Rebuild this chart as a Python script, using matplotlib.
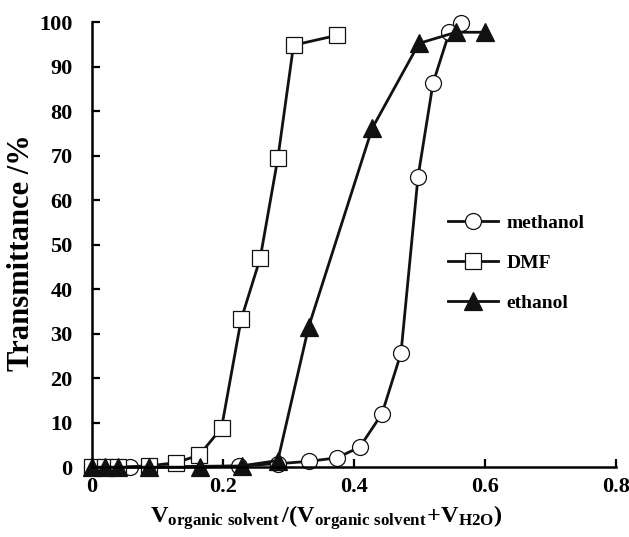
import matplotlib
matplotlib.use('Agg')
import matplotlib.pyplot as plt

# methanol (open circles)
meoh_x = [0, 0.02, 0.04, 0.058, 0.225, 0.285, 0.331, 0.374, 0.409, 0.443,
          0.472, 0.498, 0.521, 0.546, 0.564]
meoh_y = [0, 0, 0, 0, 0.3, 0.8, 1.3, 2.1, 4.5, 12.0, 25.6, 65.2, 86.3, 97.8, 99.8]

# DMF (open squares)
dmf_x = [0, 0.02, 0.04, 0.087, 0.128, 0.164, 0.198, 0.228, 0.257, 0.284, 0.308, 0.374]
dmf_y = [0, 0, 0, 0.3, 1.0, 2.7, 8.8, 33.2, 46.9, 69.4, 94.8, 97.0]

# ethanol (filled triangles)
etoh_x = [0, 0.02, 0.04, 0.087, 0.165, 0.229, 0.284, 0.331, 0.428, 0.4995, 0.556, 0.600]
etoh_y = [0, 0, 0, 0, 0, 0.3, 1.5, 31.5, 76.1, 95.2, 97.7, 97.7]

x_ticks = [0, 0.2, 0.4, 0.6, 0.8]
x_tick_labels = ['0', '0.2', '0.4', '0.6', '0.8']
y_ticks = list(range(0, 101, 10))

plt.rcParams.update({
    'font.family': 'Liberation Serif',
    'font.weight': 'bold',
    'mathtext.fontset': 'custom',
    'mathtext.rm': 'Liberation Serif:bold',
    'mathtext.bf': 'Liberation Serif:bold',
    'mathtext.it': 'Liberation Serif:bold',
})

fig = plt.figure(figsize=(6.29, 5.37), dpi=100)
ax = fig.add_axes([0.146, 0.130, 0.833, 0.829])

common = dict(color='#111111', lw=2.0, clip_on=False, markeredgewidth=0.9,
              markeredgecolor='#111111')
ax.plot(meoh_x, meoh_y, marker='o', ms=11.5, mfc='white', label='methanol', **common)
ax.plot(dmf_x, dmf_y, marker='s', ms=11, mfc='white', label='DMF', **common)
ax.plot(etoh_x, etoh_y, marker='^', ms=12.5, mfc='#111111', label='ethanol', **common)

ax.set_xlim(0, 0.8)
ax.set_ylim(0, 100)
ax.set_xticks(x_ticks)
ax.set_xticklabels(x_tick_labels)
ax.set_yticks(y_ticks)
ax.spines['top'].set_visible(False)
ax.spines['right'].set_visible(False)
ax.spines['left'].set_linewidth(1.8)
ax.spines['bottom'].set_linewidth(1.8)
ax.tick_params(direction='in', length=6, width=1.6, labelsize=16)
ax.tick_params(axis='x', pad=7)
ax.tick_params(axis='y', pad=14)
for lab in ax.get_xticklabels() + ax.get_yticklabels():
    lab.set_fontweight('bold')

ax.set_ylabel('Transmittance /%', fontsize=22, fontweight='bold')
ax.yaxis.set_label_coords(-0.106, 0.483)
ax.set_xlabel(r'$\mathrm{V_{organic\ solvent}\,/(V_{organic\ solvent}\!+\!V_{H2O})}$',
              fontsize=17.5)
ax.xaxis.set_label_coords(0.447, -0.080)

leg = ax.legend(loc='center left', bbox_to_anchor=(0.712, 0.510),
                bbox_transform=fig.transFigure, frameon=False, borderpad=0,
                borderaxespad=0, handlelength=2.6, handletextpad=0.4,
                labelspacing=1.15,
                prop={'family': 'Liberation Serif', 'weight': 'bold', 'size': 14})

fig.savefig('out.png', dpi=100)
